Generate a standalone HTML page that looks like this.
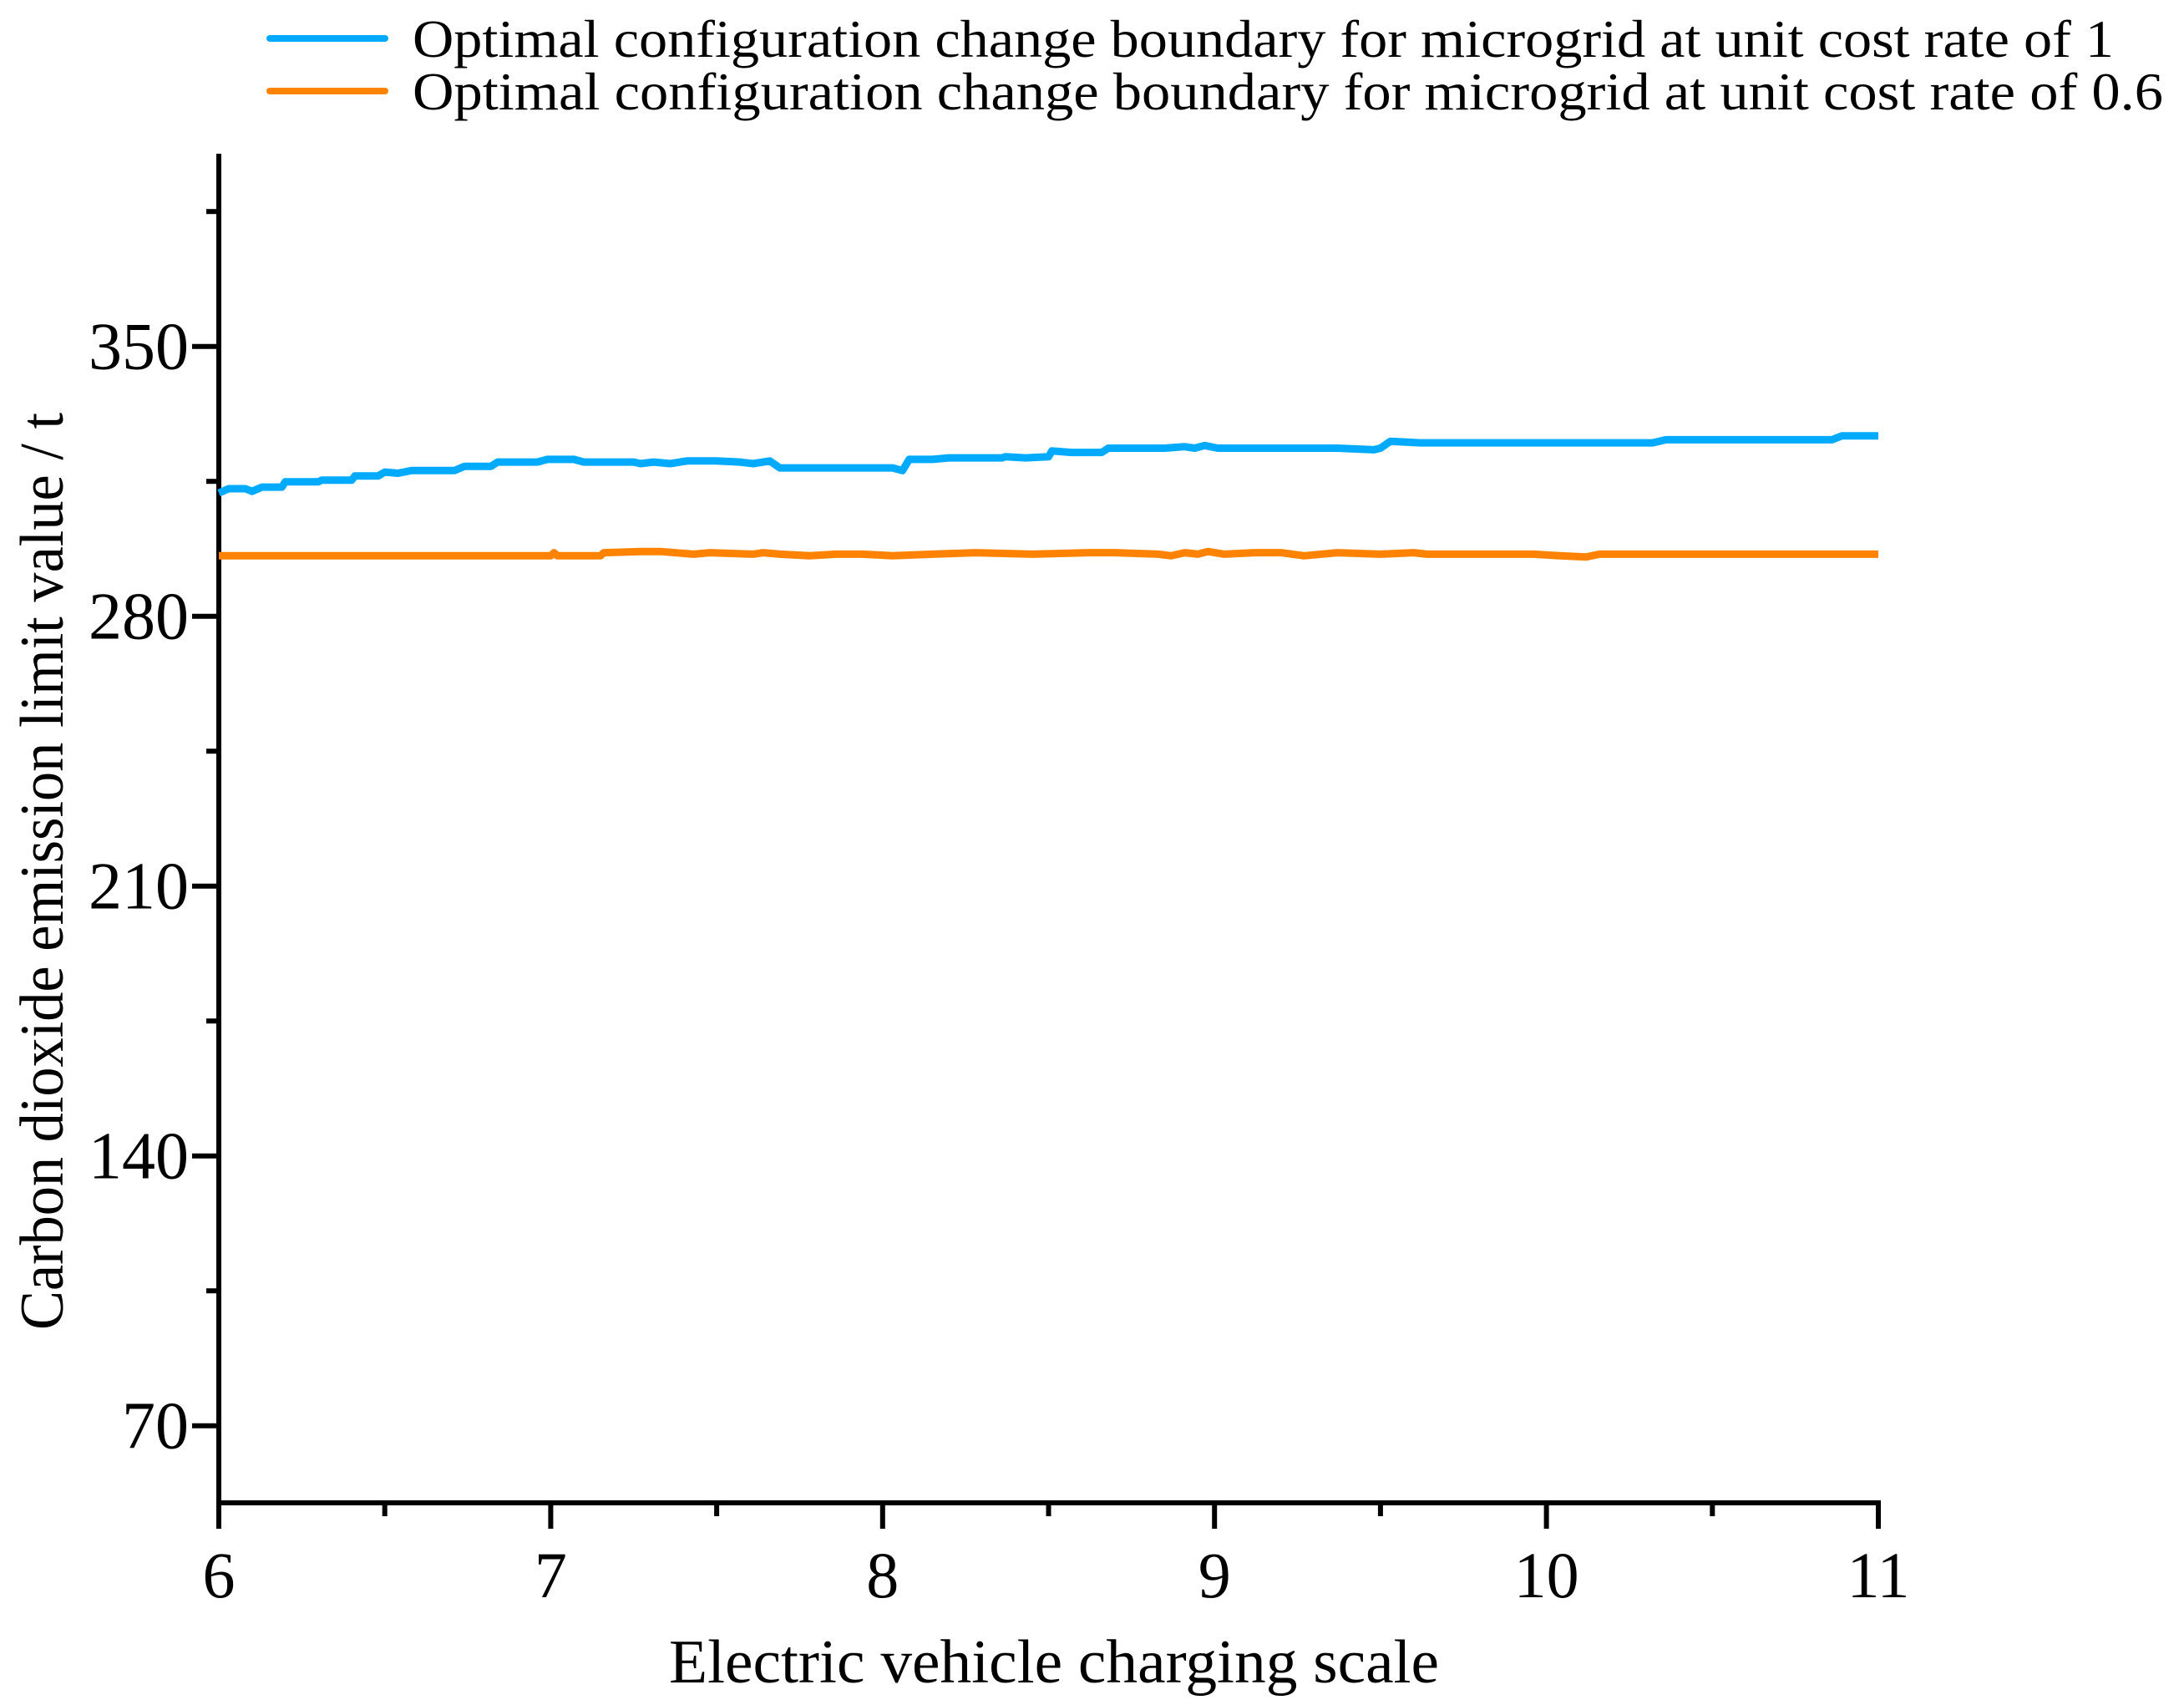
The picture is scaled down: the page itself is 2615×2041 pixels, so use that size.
<!DOCTYPE html>
<html><head><meta charset="utf-8"><style>
html,body{margin:0;padding:0;background:#fff;}
svg{display:block;}
text{font-family:"Liberation Serif",serif;fill:#000;}
</style></head><body>
<svg id="chart" width="2615" height="2041" viewBox="0 0 2615 2041" xmlns="http://www.w3.org/2000/svg">
<g id="legend">
  <line x1="323" y1="46" x2="461" y2="46" stroke="#00AAFF" stroke-width="8" stroke-linecap="round"/>
  <text x="494" y="68" font-size="64" textLength="2037" lengthAdjust="spacingAndGlyphs">Optimal configuration change boundary for microgrid at unit cost rate of 1</text>
  <line x1="323" y1="109" x2="461" y2="109" stroke="#FF8300" stroke-width="8" stroke-linecap="round"/>
  <text x="494" y="131" font-size="64" textLength="2096" lengthAdjust="spacingAndGlyphs">Optimal configuration change boundary for microgrid at unit cost rate of 0.6</text>
</g>
<g id="axes"></g>
<g id="series"></g>
<text x="1262" y="2014" font-size="74" text-anchor="middle" textLength="922" lengthAdjust="spacingAndGlyphs">Electric vehicle charging scale</text>
<text transform="translate(75,1043) rotate(-90)" font-size="74" text-anchor="middle" textLength="1098" lengthAdjust="spacingAndGlyphs">Carbon dioxide emission limit value / t</text>
</svg>
<script>
const xTicks = [6, 7, 8, 9, 10, 11];
const yTicks = [70, 140, 210, 280, 350];
const blueX = [6.00,6.03,6.08,6.10,6.13,6.19,6.20,6.30,6.31,6.40,6.41,6.48,6.50,6.54,6.58,6.71,6.74,6.82,6.84,6.87,6.96,6.99,7.07,7.10,7.25,7.27,7.31,7.36,7.41,7.50,7.57,7.61,7.66,7.69,8.03,8.06,8.08,8.15,8.20,8.36,8.37,8.43,8.50,8.51,8.57,8.66,8.68,8.85,8.91,8.94,8.97,9.01,9.25,9.37,9.48,9.50,9.53,9.62,10.32,10.36,10.86,10.89,11.00];
const blueY = [312.0,313.1,313.1,312.4,313.5,313.5,314.9,314.9,315.3,315.3,316.4,316.4,317.4,317.1,317.8,317.8,318.9,318.9,320.0,320.0,320.0,320.7,320.7,320.0,320.0,319.6,320.0,319.6,320.3,320.3,320.0,319.6,320.3,318.5,318.5,317.8,320.7,320.7,321.1,321.1,321.4,321.1,321.4,322.9,322.5,322.5,323.6,323.6,324.0,323.6,324.3,323.6,323.6,323.6,323.2,323.6,325.4,325.0,325.0,325.8,325.8,326.8,326.8];
const orangeX = [6.00,7.00,7.01,7.02,7.15,7.16,7.27,7.33,7.43,7.48,7.61,7.64,7.69,7.78,7.86,7.94,8.03,8.15,8.28,8.45,8.62,8.70,8.83,8.87,8.91,8.95,8.98,9.03,9.12,9.20,9.27,9.37,9.50,9.60,9.64,9.96,10.04,10.12,10.16,11.00];
const orangeY = [295.7,295.7,296.5,295.7,295.7,296.5,296.8,296.8,296.1,296.5,296.1,296.5,296.1,295.7,296.1,296.1,295.7,296.1,296.5,296.1,296.5,296.5,296.1,295.7,296.5,296.1,296.8,296.1,296.5,296.5,295.7,296.5,296.1,296.5,296.1,296.1,295.7,295.4,296.1,296.1];

const X0 = 262, X1 = 2249, Y0 = 1799, Y1 = 184;
const xMin = 6, xMax = 11, yMin = 50, yMax = 400;
function sx(v){ return X0 + (v - xMin) / (xMax - xMin) * (X1 - X0); }
function sy(v){ return Y0 - (v - yMin) / (yMax - yMin) * (Y0 - Y1); }
const NS = "http://www.w3.org/2000/svg";
function mk(tag, attrs, parent){
  const e = document.createElementNS(NS, tag);
  for (const k in attrs) e.setAttribute(k, attrs[k]);
  parent.appendChild(e);
  return e;
}
const axes = document.getElementById('axes');
const series = document.getElementById('series');

const yAxis = mk('line', {x1:X0, y1:Y1, x2:X0, y2:Y0+3, stroke:'#000', 'stroke-width':6}, axes);


const xAxis = mk('line', {x1:X0-3, y1:Y0, x2:X1+3, y2:Y0, stroke:'#000', 'stroke-width':6}, axes);



for (let v = 6; v <= 11.001; v += 0.5) {
  const major = Math.abs(v - Math.round(v)) < 1e-6;
  const t = mk('line', {x1:sx(v), y1:Y0, x2:sx(v), y2:Y0 + (major ? 31 : 16), stroke:'#000', 'stroke-width':6}, axes);
  
  
}
xTicks.forEach(v => {
  const t = mk('text', {x:sx(v), y:1912, 'font-size':78, 'text-anchor':'middle'}, axes);
  t.textContent = String(v);
  
  
});
for (let v = 70; v <= 385; v += 35) {
  const major = (v % 70) === 0;
  const t = mk('line', {x1:X0 - (major ? 32 : 15), y1:sy(v), x2:X0, y2:sy(v), stroke:'#000', 'stroke-width':6}, axes);
  
  
}
yTicks.forEach(v => {
  const t = mk('text', {x:226, y:sy(v) + 27, 'font-size':80, 'text-anchor':'end'}, axes);
  t.textContent = String(v);
  
  
});

function pathFrom(xs, ys){
  return xs.map((x, i) => (i ? 'L' : 'M') + sx(x).toFixed(1) + ' ' + sy(ys[i]).toFixed(1)).join(' ');
}
const blue = mk('path', {d:pathFrom(blueX, blueY), fill:'none', stroke:'#00AAFF', 'stroke-width':9, 'stroke-linejoin':'round'}, series);


const orange = mk('path', {d:pathFrom(orangeX, orangeY), fill:'none', stroke:'#FF8300', 'stroke-width':9, 'stroke-linejoin':'round'}, series);


</script>
</body></html>
